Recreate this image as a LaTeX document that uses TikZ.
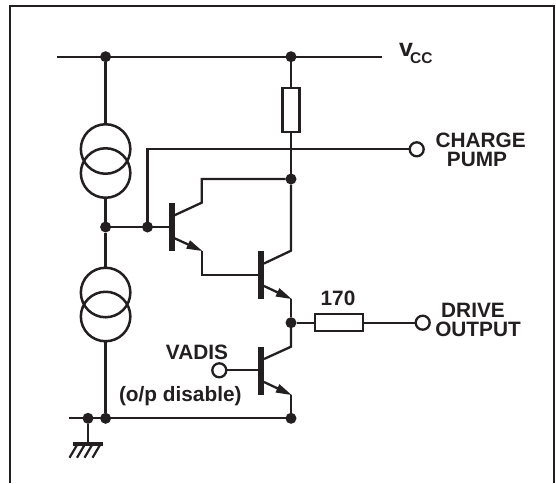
\documentclass[tikz,border=0pt]{standalone}
\usepackage{fontspec}
\setmainfont{Liberation Sans}
\usetikzlibrary{arrows.meta}
\definecolor{ink}{HTML}{231F20}
\tikzset{
  wire/.style={draw=ink,line width=2.3pt},
  frameline/.style={draw=ink,line width=2.8pt},
  dot/.style={circle,fill=ink,inner sep=0pt,minimum size=11pt,outer sep=0pt},
  term/.style={circle,draw=ink,fill=white,line width=2.3pt,inner sep=0pt,minimum size=14pt,outer sep=0pt},
  ring/.style={circle,draw=ink,line width=2.5pt,inner sep=0pt,minimum size=49.5pt,outer sep=0pt},
  res/.style={rectangle,draw=ink,fill=white,line width=2.3pt,inner sep=0pt,outer sep=0pt},
  bar/.style={rectangle,fill=ink,inner sep=0pt,outer sep=0pt,minimum width=6pt,minimum height=48pt},
  emit/.style={wire,-{Triangle[length=16pt,width=8.5pt]},shorten >=-1pt},
  lab/.style={text=ink,font=\fontsize{20.8}{22}\selectfont\bfseries,anchor=base,inner sep=0pt},
}
\begin{document}
\begin{tikzpicture}[x=1pt,y=-1pt]
\useasboundingbox (0,0) rectangle (556,483);
% frame
\coordinate (fbl) at (10,483);
\coordinate (ftl) at (10,6);
\coordinate (ftr) at (554,6);
\coordinate (fbr) at (554,483);
\draw[frameline] (fbl) -- (ftl) -- (ftr) -- (fbr);
% rails
\coordinate (vl) at (57,56.7);
\coordinate (vr) at (382,56.7);
\coordinate (gl) at (69,418.3);
\node[dot] (dv1) at (105.6,56.7) {};
\node[dot] (dv2) at (291,56.7) {};
\node[dot] (dg0) at (88,418.3) {};
\node[dot] (dg1) at (105.6,418.3) {};
\node[dot] (dg2) at (291,418.3) {};
\draw[wire] (vl) -- (vr);
\draw[wire] (gl) -- (dg2);
% current sources
\node[ring] (s1a) at (105.6,149) {};
\node[ring] (s1b) at (105.6,173) {};
\node[ring] (s2a) at (105.6,292.5) {};
\node[ring] (s2b) at (105.6,316.5) {};
\node[dot] (dm) at (105.6,227) {};
\node[dot] (db) at (147.5,227) {};
\draw[wire] (dv1) -- (s1a.north);
\draw[wire] (s1b.south) -- (dm);
\draw[wire] (dm) -- (s2a.north);
\draw[wire] (s2b.south) -- (dg1);
% resistors and junctions
\node[res,minimum width=17pt,minimum height=44pt] (r1) at (291,110) {};
\node[res,minimum width=48pt,minimum height=17pt] (r2) at (339,322.7) {};
\node[dot] (dc) at (291,179) {};
\node[dot] (do) at (291,322.7) {};
\node[term] (tcp) at (416.7,149.3) {};
\node[term] (tdo) at (422.7,322.7) {};
\node[term] (tva) at (219.3,370.3) {};
\draw[wire] (dv2) -- (r1.north);
\draw[wire] (r1.south) -- (dc);
% transistors
\node[bar] (q1) at (172,227) {};
\node[bar] (q2) at (261.3,274.7) {};
\node[bar] (q3) at (261.3,371) {};
\coordinate (q1c) at (174,215.5);
\coordinate (q1k) at (201.7,202.7);
\coordinate (q1t) at (201.7,179);
\coordinate (q1e) at (174,238);
\coordinate (q1x) at (201.7,250.7);
\coordinate (q1b) at (201.7,275);
\coordinate (q2c) at (264,263.5);
\coordinate (q2k) at (291,250.7);
\coordinate (q2e) at (264,286);
\coordinate (q2x) at (291,298.7);
\coordinate (q3c) at (264,359);
\coordinate (q3k) at (291,346.7);
\coordinate (q3e) at (264,382);
\coordinate (q3x) at (291,394.7);
% base and charge pump wiring
\draw[wire] (dm) -- (q1.west |- dm);
\draw[wire] (db) -- (db |- tcp) -- (tcp);
\draw[wire] (tva) -- (q3.west |- tva);
\draw[wire] (q1c) -- (q1k) -- (q1t) -- (dc);
\draw[emit] (q1e) -- (q1x);
\draw[wire] (q1x) -- (q1b) -- (q2.west |- q1b);
\draw[wire] (q2c) -- (q2k) -- (dc);
\draw[emit] (q2e) -- (q2x);
\draw[wire] (q2x) -- (do);
\draw[wire] (do) -- (q3k) -- (q3c);
\draw[emit] (q3e) -- (q3x);
\draw[wire] (q3x) -- (dg2);
\draw[wire] (do) -- (r2);
\draw[wire] (r2) -- (tdo);
% ground
\coordinate (gb) at (88,444);
\coordinate (gbl) at (73,444);
\coordinate (gbr) at (103,444);
\draw[wire] (dg0) -- (gb);
\draw[draw=ink,line width=4pt] (gbl) -- (gbr);
\foreach \x in {77,84.5,92,100}
  \draw[draw=ink,line width=2.2pt] (\x,445) -- (\x-7.5,457.7);
% labels
\node[text=ink,font=\bfseries,anchor=base west,inner sep=0pt] (lv) at (399,56.7)
  {\fontsize{25}{25}\selectfont v\kern-3pt\raisebox{-7pt}{\fontsize{15.5}{16}\selectfont CC}};
\node[lab] (lc1) at (480.7,147) {CHARGE};
\node[lab] (lc2) at (477,166.7) {PUMP};
\node[lab] (ld1) at (473,317.4) {DRIVE};
\node[lab] (ld2) at (478,336.7) {OUTPUT};
\node[lab] (l170) at (338,305) {170};
\node[lab] (lva) at (197,359) {VADIS};
\node[lab] (lop) at (180.3,401) {(o/p disable)};
\end{tikzpicture}
\end{document}
